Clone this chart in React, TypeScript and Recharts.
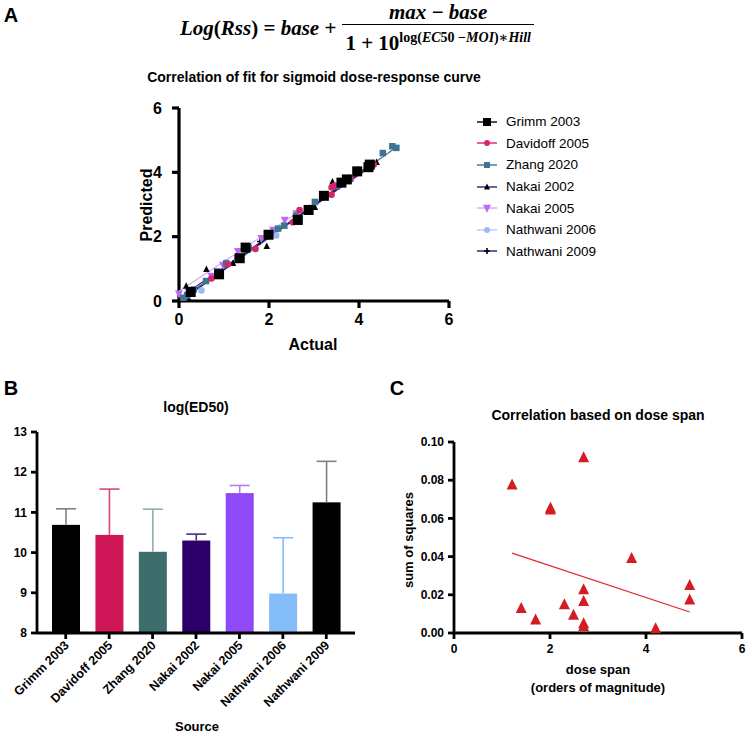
import React from "react";
import { Bar, BarChart, Cell, Scatter, ScatterChart, XAxis, YAxis } from "recharts";

// ---------- Panel A: predicted vs actual ----------
const grimm2003: [number, number][] = [
  [0.26, 0.28], [0.89, 0.83], [1.35, 1.33], [1.48, 1.66], [1.99, 2.06], [2.64, 2.52],
  [2.88, 2.83], [3.22, 3.27], [3.61, 3.68], [3.73, 3.78], [3.96, 4.03], [4.21, 4.16], [4.24, 4.24],
];
const davidoff2005: [number, number][] = [
  [0.72, 0.7], [1.09, 1.14], [1.7, 1.62], [2.53, 2.45], [2.68, 2.83], [3.39, 3.3],
  [3.39, 3.53], [3.46, 3.59], [3.8, 3.82], [4.33, 4.24],
];
const zhang2020: [number, number][] = [
  [0.1, 0.1], [0.18, 0.18], [0.33, 0.36], [0.6, 0.62], [0.85, 0.92], [1.05, 1.17],
  [1.3, 1.35], [1.55, 1.65], [2.2, 2.25], [2.34, 2.34], [2.6, 2.65], [3.02, 3.08],
  [3.5, 3.56], [3.81, 3.8], [4.2, 4.15], [4.53, 4.6], [4.74, 4.81], [4.83, 4.76],
];
const nakai2002: [number, number][] = [
  [0.16, 0.46], [0.22, 0.05], [0.61, 0.98], [1.2, 1.17], [1.95, 1.7], [3.02, 2.91],
  [3.41, 3.7], [3.98, 4.08], [4.39, 4.31],
];
const nakai2005: [number, number][] = [
  [0.0, 0.23], [0.72, 0.78], [0.98, 1.12], [1.31, 1.55], [1.83, 1.95], [2.09, 2.21],
  [2.35, 2.52], [2.61, 2.72],
];
const nathwani2006: [number, number][] = [[0.5, 0.33], [1.05, 1.2], [2.16, 2.04]];
const nathwani2009: [number, number][] = [
  [0.24, 0.22], [0.9, 0.88], [1.8, 1.85], [2.9, 2.9], [4.0, 4.02],
];

// fitted lines (end points)
const grimmFit: [number, number][] = [[0.26, 0.26], [4.24, 4.22]];
const davidoffFit: [number, number][] = [[0.72, 0.72], [4.33, 4.25]];
const zhangFit: [number, number][] = [[0.1, 0.1], [4.83, 4.78]];
const nakai2002Fit: [number, number][] = [[0.16, 0.24], [4.39, 4.3]];
const nakai2005Fit: [number, number][] = [[0.0, 0.3], [2.61, 2.72]];
const nathwani2006Fit: [number, number][] = [[0.5, 0.48], [2.16, 2.1]];
const nathwani2009Fit: [number, number][] = [[0.24, 0.2], [4.0, 4.0]];

const A_TICKS = [0, 2, 4, 6];

// ---------- Panel B: log(ED50) ----------
const sources = [
  "Grimm 2003", "Davidoff 2005", "Zhang 2020", "Nakai 2002",
  "Nakai 2005", "Nathwani 2006", "Nathwani 2009",
];
const ed50Mean = [10.69, 10.44, 10.02, 10.3, 11.48, 8.98, 11.25];
const ed50Upper = [11.09, 11.58, 11.08, 10.46, 11.67, 10.37, 12.27];
const barColors = ["#000000", "#CF1656", "#3D6E6C", "#2C0068", "#8E4AF6", "#84BDF9", "#000000"];
const errColors = ["#808080", "#D8467A", "#93AEAC", "#4B2C80", "#A983F7", "#84BDF9", "#808080"];
const B_DOMAIN = [8, 13];
const B_TICKS = [8, 9, 10, 11, 12, 13];

// ---------- Panel C: dose span ----------
const doseSpan = [1.21, 2.7, 2.01, 2.01, 3.7, 1.4, 1.7, 2.3, 2.49, 2.7, 2.7, 2.7, 2.7, 4.2, 4.91, 4.91];
const sumSquares = [0.0774, 0.0917, 0.0653, 0.0643, 0.0389, 0.0128, 0.0068, 0.0148, 0.0092, 0.0226, 0.0165, 0.0048, 0.0032, 0.0022, 0.0248, 0.0172];
const trendX = [1.21, 4.91];
const trendY = [0.0418, 0.011];
const C_XTICKS = [0, 2, 4, 6];
const C_YTICKS = [0, 0.02, 0.04, 0.06, 0.08, 0.1];

const toPts = (arr: [number, number][]) => arr.map(([x, y]) => ({ x, y }));

const FONT = '"Liberation Sans", Arial, Helvetica, sans-serif';

// axis lines in the original are heavy
const AXIS_CSS = `
.panel .recharts-cartesian-axis-line, .panel .recharts-cartesian-axis-tick-line { stroke: #000 !important; stroke-width: 2.8px !important; }
.panelA .recharts-cartesian-axis-line, .panelA .recharts-cartesian-axis-tick-line { stroke-width: 3.2px !important; }
`;

// marker shapes
const squareShape = (size: number, fill: string) => (p: any) => (
  <rect x={p.cx - size / 2} y={p.cy - size / 2} width={size} height={size} fill={fill} />
);
const circleShape = (r: number, fill: string) => (p: any) => <circle cx={p.cx} cy={p.cy} r={r} fill={fill} />;
const triShape = (s: number, fill: string) => (p: any) => (
  <path d={`M${p.cx},${p.cy - s * 0.6} L${p.cx + s / 2},${p.cy + s * 0.4} L${p.cx - s / 2},${p.cy + s * 0.4} Z`} fill={fill} />
);
const invTriShape = (s: number, fill: string) => (p: any) => (
  <path d={`M${p.cx - s / 2},${p.cy - s * 0.4} L${p.cx + s / 2},${p.cy - s * 0.4} L${p.cx},${p.cy + s * 0.6} Z`} fill={fill} />
);
const crossShape = (s: number, fill: string) => (p: any) => (
  <path d={`M${p.cx - s / 2},${p.cy} H${p.cx + s / 2} M${p.cx},${p.cy - s / 2} V${p.cy + s / 2}`} stroke={fill} strokeWidth={1.6} />
);
const noShape = () => <g />;

interface SeriesDef {
  name: string;
  points: [number, number][];
  fit: [number, number][];
  line: string;
  shape: (p: any) => React.ReactElement;
  icon: (p: any) => React.ReactElement;
}

const seriesA: SeriesDef[] = [
  { name: "Grimm 2003", points: grimm2003, fit: grimmFit, line: "#000000", shape: squareShape(10, "#000"), icon: squareShape(8, "#000") },
  { name: "Davidoff 2005", points: davidoff2005, fit: davidoffFit, line: "#D6246E", shape: circleShape(3.3, "#D6246E"), icon: circleShape(3, "#D6246E") },
  { name: "Zhang 2020", points: zhang2020, fit: zhangFit, line: "#3D7690", shape: squareShape(6.5, "#3D7690"), icon: squareShape(6, "#3D7690") },
  { name: "Nakai 2002", points: nakai2002, fit: nakai2002Fit, line: "#3A1A7A", shape: triShape(6.5, "#000"), icon: triShape(6, "#000") },
  { name: "Nakai 2005", points: nakai2005, fit: nakai2005Fit, line: "#D9A8F5", shape: invTriShape(8, "#BC6BF0"), icon: invTriShape(8, "#BC6BF0") },
  { name: "Nathwani 2006", points: nathwani2006, fit: nathwani2006Fit, line: "#B5CBF5", shape: circleShape(3.3, "#9DB9F0"), icon: circleShape(3, "#9DB9F0") },
  { name: "Nathwani 2009", points: nathwani2009, fit: nathwani2009Fit, line: "#20206A", shape: crossShape(6, "#000"), icon: crossShape(6, "#000") },
];

const boldTick = (size: number) => ({ fill: "#000", fontSize: size, fontWeight: 700, fontFamily: FONT });

function abs(left: number, top: number, extra: React.CSSProperties = {}): React.CSSProperties {
  return { position: "absolute", left, top, ...extra };
}

function Formula() {
  const ser = '"Liberation Serif", "DejaVu Serif", serif';
  return (
    <div style={abs(180, 0, { display: "flex", alignItems: "center", fontFamily: ser, fontWeight: 700, fontSize: 21, whiteSpace: "nowrap" })}>
      <span>
        <i>Log</i>(<i>Rss</i>) = <i>base</i> +
      </span>
      <span style={{ display: "inline-flex", flexDirection: "column", alignItems: "center", marginLeft: 6 }}>
        <span style={{ padding: "0 4px", lineHeight: "24px" }}>
          <i>max</i> − <i>base</i>
        </span>
        <span style={{ borderTop: "1.8px solid #000", padding: "0 3px", lineHeight: "26px" }}>
          1 + 10
          <sup style={{ fontSize: 14, verticalAlign: "8px" }}>
            log(<i>EC</i>50 −<i>MOI</i>)∗<i>Hill</i>
          </sup>
        </span>
      </span>
    </div>
  );
}

function LegendA() {
  return (
    <div style={abs(476, 111, { fontFamily: FONT, fontSize: 13.5 })}>
      {seriesA.map((s) => (
        <div key={s.name} style={{ display: "flex", alignItems: "center", height: 21.6 }}>
          <svg width={22} height={12} style={{ marginRight: 8 }}>
            <line x1={1} y1={6} x2={21} y2={6} stroke={s.line} strokeWidth={1.4} />
            {s.icon({ cx: 11, cy: 6 })}
          </svg>
          <span>{s.name}</span>
        </div>
      ))}
    </div>
  );
}

function PanelA() {
  return (
    <ScatterChart width={747} height={360} margin={{ top: 108, right: 298, bottom: 29, left: 139 }}>
      <XAxis
        type="number"
        dataKey="x"
        domain={[0, 6]}
        ticks={A_TICKS}
        height={30}
        tick={boldTick(16)}
        tickSize={7}
        tickMargin={6}
        stroke="#000"
        strokeWidth={3}
      />
      <YAxis
        type="number"
        dataKey="y"
        domain={[0, 6]}
        ticks={A_TICKS}
        width={40}
        tick={boldTick(16)}
        tickSize={7}
        tickMargin={10}
        stroke="#000"
        strokeWidth={3}
      />
      {seriesA.map((s) => (
        <Scatter
          key={s.name + "-fit"}
          data={toPts(s.fit)}
          line={{ stroke: s.line, strokeWidth: 1.2 }}
          shape={noShape}
          isAnimationActive={false}
        />
      ))}
      {[...seriesA].reverse().map((s) => (
        <Scatter key={s.name} name={s.name} data={toPts(s.points)} shape={s.shape} isAnimationActive={false} />
      ))}
    </ScatterChart>
  );
}

const barData = sources.map((source, i) => ({ source, value: ed50Mean[i], upper: ed50Upper[i] }));

function BarWithError(props: any) {
  const { x, y, width, height, index, payload } = props;
  const perUnit = height / (payload.value - B_DOMAIN[0]);
  const topY = y - (payload.upper - payload.value) * perUnit;
  const cx = x + width / 2;
  return (
    <g>
      <rect x={x} y={y} width={width} height={height} fill={barColors[index]} />
      <line x1={cx} y1={y} x2={cx} y2={topY} stroke={errColors[index]} strokeWidth={1.6} />
      <line x1={cx - 10} y1={topY} x2={cx + 10} y2={topY} stroke={errColors[index]} strokeWidth={1.6} />
    </g>
  );
}

function SourceTick(props: any) {
  const { x, y, payload } = props;
  const tx = x + 4;
  const ty = y + 5;
  return (
    <text
      x={tx}
      y={ty}
      transform={`rotate(-45 ${tx} ${ty})`}
      textAnchor="end"
      fill="#000"
      fontSize={12.5}
      fontWeight={700}
      fontFamily={FONT}
    >
      {payload.value}
    </text>
  );
}

function PanelB() {
  return (
    <BarChart width={390} height={354} data={barData} margin={{ top: 52, right: 35, bottom: 1, left: 7 }} barSize={28}>
      <XAxis
        dataKey="source"
        height={100}
        interval={0}
        padding={{ left: 7, right: 7 }}
        tick={<SourceTick />}
        tickSize={6}
        tickMargin={2}
        stroke="#000"
        strokeWidth={2.5}
      />
      <YAxis
        type="number"
        domain={B_DOMAIN}
        ticks={B_TICKS}
        width={30}
        tick={boldTick(12)}
        tickSize={6}
        tickMargin={4}
        stroke="#000"
        strokeWidth={2.5}
      />
      <Bar dataKey="value" shape={<BarWithError />} isAnimationActive={false}>
        {barData.map((d, i) => (
          <Cell key={d.source} fill={barColors[i]} />
        ))}
      </Bar>
    </BarChart>
  );
}

const cPoints = doseSpan.map((x, i) => ({ x, y: sumSquares[i] }));
const cTrend = trendX.map((x, i) => ({ x, y: trendY[i] }));

function PanelC() {
  return (
    <ScatterChart width={357} height={354} margin={{ top: 62, right: 5, bottom: 71, left: 24 }}>
      <XAxis
        type="number"
        dataKey="x"
        domain={[0, 6]}
        ticks={C_XTICKS}
        height={30}
        tick={boldTick(12)}
        tickSize={6}
        tickMargin={5}
        stroke="#000"
        strokeWidth={2.5}
      />
      <YAxis
        type="number"
        dataKey="y"
        domain={[0, 0.1]}
        ticks={C_YTICKS}
        tickFormatter={(v) => Number(v).toFixed(2)}
        width={40}
        tick={boldTick(12)}
        tickSize={6}
        tickMargin={4}
        stroke="#000"
        strokeWidth={2.5}
      />
      <Scatter data={cTrend} line={{ stroke: "#E0262B", strokeWidth: 1.2 }} shape={noShape} isAnimationActive={false} />
      <Scatter data={cPoints} shape={triShape(11, "#D41C24")} isAnimationActive={false} />
    </ScatterChart>
  );
}

export default function App() {
  const bold: React.CSSProperties = { fontWeight: 700, fontFamily: FONT, color: "#000" };
  const centered = (cx: number, cy: number, size: number, text: React.ReactNode, extra: React.CSSProperties = {}) => (
    <div
      style={{
        ...bold,
        position: "absolute",
        left: cx,
        top: cy,
        transform: "translate(-50%, -50%)",
        fontSize: size,
        whiteSpace: "nowrap",
        lineHeight: 1.2,
        textAlign: "center",
        ...extra,
      }}
    >
      {text}
    </div>
  );

  return (
    <div style={{ position: "absolute", left: 0, top: 0, width: 747, height: 734, background: "#fff", overflow: "hidden" }}>
      <style>{AXIS_CSS}</style>
      {/* Panel A */}
      <div className="panel panelA" style={abs(0, 0)}>
        <PanelA />
      </div>
      {centered(11, 15, 20, "A")}
      <Formula />
      {centered(314, 77, 14, "Correlation of fit for sigmoid dose-response curve")}
      {centered(147, 205, 16, "Predicted", { transform: "translate(-50%, -50%) rotate(-90deg)" })}
      {centered(313, 345, 16, "Actual")}
      <LegendA />

      {/* Panel B */}
      <div className="panel" style={abs(0, 380)}>
        <PanelB />
      </div>
      {centered(11, 388, 20, "B")}
      {centered(196, 407, 14, "log(ED50)")}
      {centered(197, 727, 13, "Source")}

      {/* Panel C */}
      <div className="panel" style={abs(390, 380)}>
        <PanelC />
      </div>
      {centered(397, 388, 20, "C")}
      {centered(598, 415, 14, "Correlation based on dose span")}
      {centered(409, 540, 13, "sum of squares", { transform: "translate(-50%, -50%) rotate(-90deg)" })}
      {centered(598, 679, 13, (
        <>
          dose span
          <br />
          (orders of magnitude)
        </>
      ), { lineHeight: "18px" })}
    </div>
  );
}
